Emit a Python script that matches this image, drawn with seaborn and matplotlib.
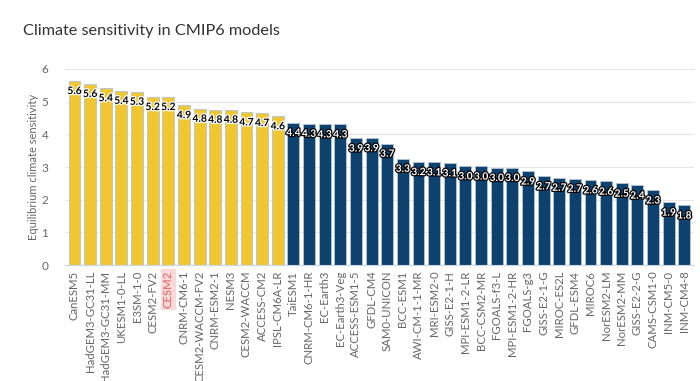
import pandas as pd
import seaborn as sns
import matplotlib.pyplot as plt
import matplotlib.patheffects as pe

models = ["CanESM5", "HadGEM3-GC31-LL", "HadGEM3-GC31-MM", "UKESM1-0-LL", "E3SM-1-0",
          "CESM2-FV2", "CESM2", "CNRM-CM6-1", "CESM2-WACCM-FV2", "CNRM-ESM2-1", "NESM3",
          "CESM2-WACCM", "ACCESS-CM2", "IPSL-CM6A-LR", "TaiESM1", "CNRM-CM6-1-HR",
          "EC-Earth3", "EC-Earth3-Veg", "ACCESS-ESM1-5", "GFDL-CM4", "SAM0-UNICON",
          "BCC-ESM1", "AWI-CM-1-1-MR", "MRI-ESM2-0", "GISS-E2-1-H", "MPI-ESM1-2-LR",
          "BCC-CSM2-MR", "FGOALS-f3-L", "MPI-ESM1-2-HR", "FGOALS-g3", "GISS-E2-1-G",
          "MIROC-ES2L", "GFDL-ESM4", "MIROC6", "NorESM2-LM", "NorESM2-MM", "GISS-E2-2-G",
          "CAMS-CSM1-0", "INM-CM5-0", "INM-CM4-8"]
ecs = [5.64, 5.55, 5.42, 5.34, 5.31, 5.15, 5.15, 4.90, 4.79, 4.76, 4.76, 4.68, 4.66, 4.56,
       4.36, 4.33, 4.31, 4.31, 3.88, 3.89, 3.72, 3.26, 3.16, 3.15, 3.12, 3.03, 3.02, 2.98,
       2.98, 2.87, 2.72, 2.68, 2.65, 2.60, 2.56, 2.50, 2.44, 2.29, 1.92, 1.83]
labels = ["5.6", "5.6", "5.4", "5.4", "5.3", "5.2", "5.2", "4.9", "4.8", "4.8", "4.8", "4.7",
          "4.7", "4.6", "4.4", "4.3", "4.3", "4.3", "3.9", "3.9", "3.7", "3.3", "3.2", "3.1",
          "3.1", "3.0", "3.0", "3.0", "3.0", "2.9", "2.7", "2.7", "2.7", "2.6", "2.6", "2.5",
          "2.4", "2.3", "1.9", "1.8"]
group = ["high"] * 14 + ["low"] * 26

df = pd.DataFrame({"model": models, "ecs": ecs, "group": group})
colors = {"high": "#F0C631", "low": "#0E426E"}

sns.set_style("white")
plt.rcParams["font.family"] = ["Lato", "DejaVu Sans"]

fig = plt.figure(figsize=(7, 3.81), dpi=100)
ax = fig.add_axes([0.093, 0.304, 0.898, 0.515])
sns.barplot(data=df, x="model", y="ecs", hue="group", palette=colors, dodge=False,
            saturation=1, width=0.76, edgecolor="#b4c4d6", linewidth=0.6, legend=False, ax=ax)

for i, (v, lab, g) in enumerate(zip(ecs, labels, group)):
    fc, sc = ("black", "white") if g == "high" else ("white", "black")
    ax.text(i, v - 0.33, lab, ha="center", va="center", fontsize=7.4, fontweight="bold",
            color=fc, path_effects=[pe.withStroke(linewidth=1.8, foreground=sc)], zorder=5)

ax.set_ylim(0, 6)
ax.set_xlim(-0.6, len(models) - 0.4)
ax.set_yticks(range(0, 7))
ax.yaxis.grid(True, color="#e6e6e6", linewidth=0.8)
ax.set_axisbelow(True)
for s in ["top", "right", "left"]:
    ax.spines[s].set_visible(False)
ax.spines["bottom"].set_color("#ccd6eb")
ax.tick_params(axis="y", length=0, labelsize=8.5, labelcolor="#666666", pad=12)
ax.tick_params(axis="x", length=0, labelsize=8.2, labelcolor="#666666", rotation=90, pad=4)
ax.set_xlabel("")
ax.set_ylabel("Equilibrium climate sensitivity", fontsize=8, color="#666666", labelpad=2)

for t in ax.get_xticklabels():
    if t.get_text() == "CESM2":
        t.set_color("#e06060")
        t.set_bbox(dict(facecolor="#f9d9d9", edgecolor="none", pad=1.5))

fig.text(0.033, 0.919, "Climate sensitivity in CMIP6 models", fontsize=11.7, color="#333333",
         va="center")

fig.savefig("out.png", dpi=100, facecolor="white")
